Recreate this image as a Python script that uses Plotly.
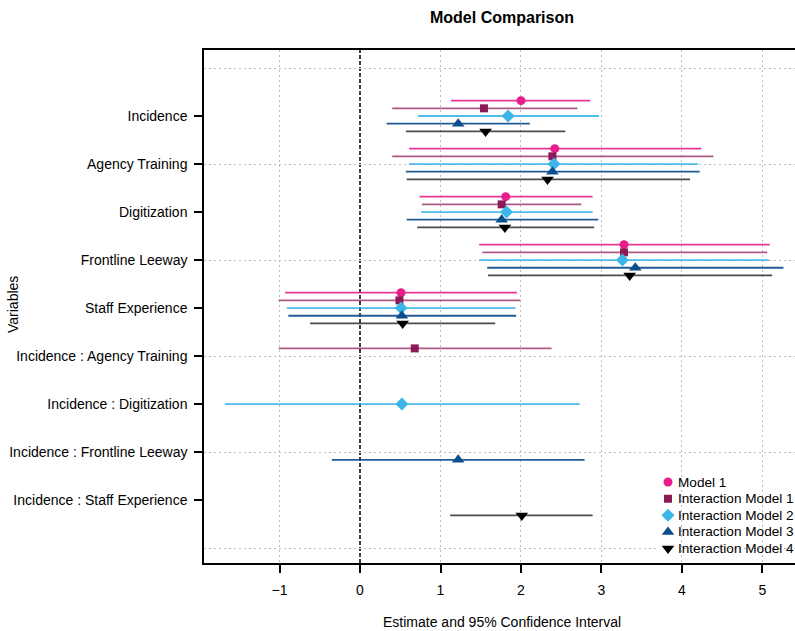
import plotly.graph_objects as go

variables = ["Incidence", "Agency Training", "Digitization", "Frontline Leeway",
             "Staff Experience", "Incidence : Agency Training", "Incidence : Digitization",
             "Incidence : Frontline Leeway", "Incidence : Staff Experience"]

models = ["Model 1", "Interaction Model 1", "Interaction Model 2",
          "Interaction Model 3", "Interaction Model 4"]

# estimates, lower and upper 95% CI per model (None = term not in model)
m1_est = [2.00, 2.42, 1.81, 3.28, 0.51, None, None, None, None]
m1_lo  = [1.13, 0.61, 0.74, 1.48, -0.93, None, None, None, None]
m1_hi  = [2.86, 4.24, 2.89, 5.09, 1.95, None, None, None, None]

im1_est = [1.54, 2.39, 1.76, 3.28, 0.49, 0.68, None, None, None]
im1_lo  = [0.40, 0.40, 0.77, 1.52, -1.01, -1.01, None, None, None]
im1_hi  = [2.70, 4.39, 2.75, 5.06, 1.99, 2.38, None, None, None]

im2_est = [1.84, 2.41, 1.82, 3.26, 0.51, None, 0.52, None, None]
im2_lo  = [0.72, 0.61, 0.76, 1.48, -0.91, None, -1.68, None, None]
im2_hi  = [2.97, 4.20, 2.89, 5.08, 1.93, None, 2.73, None, None]

im3_est = [1.22, 2.39, 1.76, 3.42, 0.52, None, None, 1.22, None]
im3_lo  = [0.33, 0.57, 0.58, 1.58, -0.89, None, None, -0.35, None]
im3_hi  = [2.11, 4.22, 2.96, 5.26, 1.94, None, None, 2.79, None]

im4_est = [1.56, 2.33, 1.80, 3.35, 0.53, None, None, None, 2.01]
im4_lo  = [0.57, 0.58, 0.71, 1.59, -0.62, None, None, None, 1.12]
im4_hi  = [2.55, 4.10, 2.91, 5.12, 1.68, None, None, None, 2.89]

x_ticks = [-1, 0, 1, 2, 3, 4, 5]
x_tick_labels = ["\u22121", "0", "1", "2", "3", "4", "5"]

series = [
    (m1_est, m1_lo, m1_hi),
    (im1_est, im1_lo, im1_hi),
    (im2_est, im2_lo, im2_hi),
    (im3_est, im3_lo, im3_hi),
    (im4_est, im4_lo, im4_hi),
]

marker_colors = ["#E91E8C", "#8C1A56", "#3CB6E9", "#0C4E8C", "#000000"]
line_colors = ["rgba(236,40,145,0.95)", "rgba(140,26,86,0.72)", "rgba(60,182,233,0.9)",
               "rgba(12,78,140,0.92)", "rgba(0,0,0,0.7)"]
symbols = ["circle", "square", "diamond", "triangle-up", "triangle-down"]
sizes = [9, 8, 10, 11, 11]
offsets = [0.32, 0.16, 0.0, -0.16, -0.32]

W, H = 795, 631
PL, PR, PT, PB = 204, 795, 50, 563  # plot area in page pixels
pw, ph = PR - PL, PB - PT

n = len(variables)
ypos = [n - i for i in range(n)]  # Incidence at top

fig = go.Figure()
for k, (est, lo, hi) in enumerate(series):
    xs, ys, plus, minus = [], [], [], []
    for i in range(n):
        if est[i] is None:
            continue
        xs.append(est[i])
        ys.append(ypos[i] + offsets[k])
        plus.append(hi[i] - est[i])
        minus.append(est[i] - lo[i])
    fig.add_trace(go.Scatter(
        x=xs, y=ys, mode="markers", name=models[k], showlegend=False,
        marker=dict(symbol=symbols[k], size=sizes[k], color=marker_colors[k],
                    opacity=1, line=dict(width=0)),
        error_x=dict(type="data", symmetric=False, array=plus, arrayminus=minus,
                     color=line_colors[k], thickness=1.8, width=0),
    ))

# overlay axes carrying only the dotted grid (vertical every 1 except 0, horizontal every 2)
fig.add_trace(go.Scatter(x=[None], y=[None], xaxis="x2", yaxis="y2",
                         showlegend=False, hoverinfo="skip"))

# manual legend on its own small axis (rows indexed by model order)
leg_x0 = (668 - PL) / pw
fig.add_trace(go.Scatter(
    x=[0] * len(models), y=list(range(len(models))), xaxis="x3", yaxis="y3",
    mode="markers", showlegend=False, hoverinfo="skip",
    marker=dict(symbol=symbols, size=sizes, color=marker_colors, opacity=1,
                line=dict(width=0)),
))
for k, name in enumerate(models):
    fig.add_annotation(text=name, xref="x3", yref="y3", x=0, y=k, xanchor="left",
                       yanchor="middle", xshift=8, showarrow=False,
                       font=dict(size=13.6, color="black"))

yr = [-0.31, 10.375]
xr = [-1.938, 5.404]
grid = dict(showgrid=True, gridcolor="#bcbcbc", griddash="2px,3px", gridwidth=1)

# legend axis: row 0 at page y=482, row 4 at 548.5
row_top, row_bot = 482, 548.5
leg_dom_top = 1 - ((row_top - 10) - PT) / ph
leg_dom_bot = 1 - ((row_bot + 10) - PT) / ph
leg_range_pad = 10 / ((row_bot - row_top) / 4)

fig.update_layout(
    width=W, height=H,
    margin=dict(l=PL, r=W - PR, t=PT, b=H - PB),
    paper_bgcolor="white", plot_bgcolor="white",
    font=dict(family="Liberation Sans, Arial, sans-serif", size=14, color="black"),
    title=dict(text="<b>Model Comparison</b>", xref="paper", x=(502 - PL) / pw,
               xanchor="center", y=1 - 17 / H, yanchor="middle", yref="container",
               font=dict(size=16, color="black")),
    xaxis=dict(range=xr, tickvals=x_ticks, ticktext=x_tick_labels, showgrid=False,
               zeroline=False, showline=True, linecolor="black", linewidth=1.5,
               mirror=True, ticks="outside", ticklen=8, tickcolor="black", tickwidth=1.5,
               ticklabelstandoff=5, tickfont=dict(size=14)),
    yaxis=dict(range=yr, tickvals=ypos, ticktext=variables, showgrid=False,
               zeroline=False, showline=True, linecolor="black", linewidth=1.5,
               ticks="outside", ticklen=8, tickcolor="black", tickwidth=1.5,
               ticklabelstandoff=4, tickfont=dict(size=14)),
    xaxis2=dict(range=xr, overlaying="x", tickvals=[t for t in x_ticks if t != 0],
                showticklabels=False, ticks="", zeroline=False, showline=False, **grid),
    yaxis2=dict(range=yr, overlaying="y", tickvals=[0, 2, 4, 6, 8, 10],
                showticklabels=False, ticks="", zeroline=False, showline=False, **grid),
    xaxis3=dict(domain=[leg_x0 - 0.02, leg_x0 + 0.02], range=[-1, 1], visible=False,
                anchor="y3"),
    yaxis3=dict(domain=[leg_dom_bot, leg_dom_top],
                range=[len(models) - 1 + leg_range_pad, -leg_range_pad],
                visible=False, anchor="x3"),
    showlegend=False,
)

fig.add_shape(type="line", xref="x", yref="paper", x0=0, x1=0, y0=0, y1=1,
              line=dict(color="black", width=1.5, dash="4px,2px"), layer="below")

fig.add_annotation(text="Estimate and 95% Confidence Interval", xref="paper", yref="paper",
                   x=(502 - PL) / pw, y=-(622 - PB) / ph, xanchor="center", yanchor="middle",
                   showarrow=False, font=dict(size=14))
fig.add_annotation(text="Variables", xref="paper", yref="paper",
                   x=(13 - PL) / pw, y=(PB - 305) / ph, xanchor="center", yanchor="middle",
                   textangle=-90, showarrow=False, font=dict(size=14))

fig.write_html("out.html",
               config={"displayModeBar": False},
               post_script="document.body.style.margin='0';"
                           "document.body.style.overflow='hidden';")
